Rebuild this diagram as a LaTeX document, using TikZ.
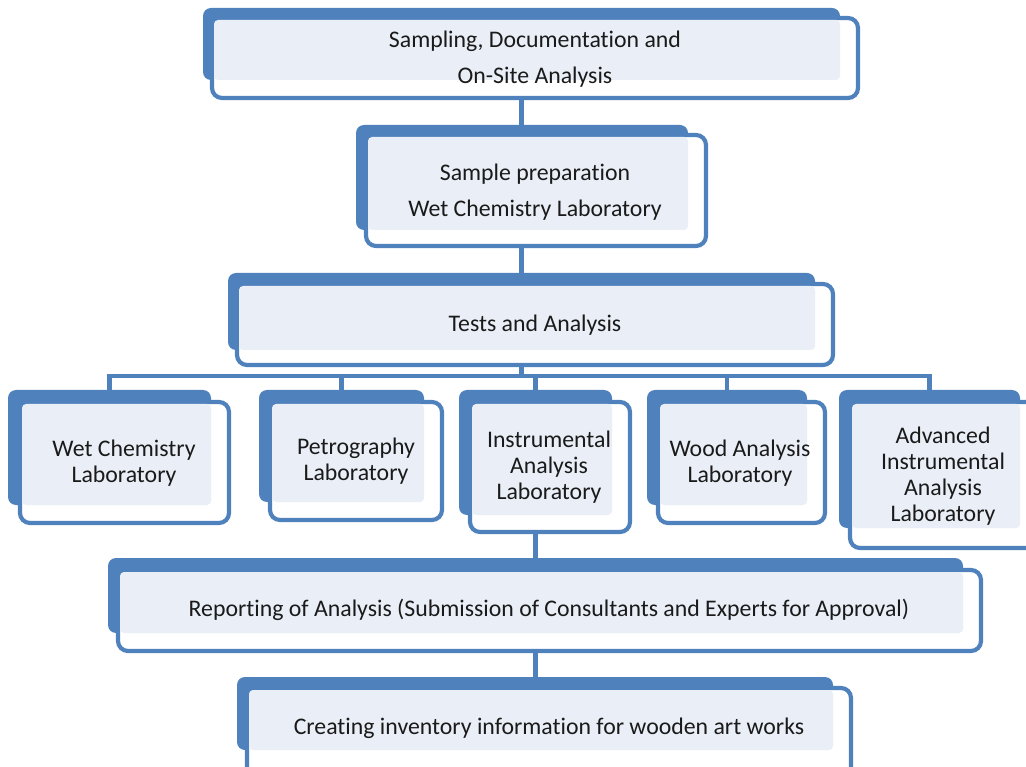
\documentclass[tikz,border=0pt]{standalone}
\usepackage{fontspec}
\setmainfont{Carlito}[RawFeature={-liga;-clig}]
\definecolor{bblue}{HTML}{4F81BD}
\definecolor{lfill}{HTML}{EAEFF7}
\definecolor{ctext}{HTML}{1A1A1A}
\tikzset{
  backbox/.style={fill=bblue, draw=none, rounded corners=8pt, inner sep=0pt, outer sep=0pt},
  outbox/.style={fill=white, draw=bblue, line width=4.2pt, rounded corners=10pt, inner sep=0pt, outer sep=0pt},
  lightfill/.style={fill=lfill},
  conn/.style={draw=bblue, line width=4.5pt},
  txt/.style={align=center, text=ctext, inner sep=0pt, font=\fontsize{23.8}{26}\selectfont},
  txtw/.style={txt, font=\fontsize{23.8}{36}\selectfont}
}
\newcommand\obox[9]{%
  \pgfmathsetmacro\bw{#4-#2}\pgfmathsetmacro\bh{#5-#3}%
  \node[backbox, minimum width=\bw pt, minimum height=\bh pt] (k#1) at ({(#2+#4)/2},{(#3+#5)/2}) {};
  \pgfmathsetmacro\ow{#8-#6}\pgfmathsetmacro\oh{#9-#7}%
  \node[outbox, minimum width=\ow pt, minimum height=\oh pt] (o#1) at ({(#6+#8)/2},{(#7+#9)/2}) {};
  \fill[lightfill, rounded corners=4pt] ({#6+2},{#7+2}) rectangle (#4,#5);
}
\begin{document}
\begin{tikzpicture}[x=1pt,y=-1pt]
\useasboundingbox (0,0) rectangle (1026,767);
% connector anchor points (centres of the back boxes)
\coordinate (bus) at (521.5,376);
\coordinate (p1) at (521.5,90);  \coordinate (p2t) at (521.5,130);
\coordinate (p2) at (521.5,240); \coordinate (p3t) at (521.5,280);
\coordinate (p3) at (521.5,355);
\coordinate (pA) at (109.5,392); \coordinate (pB) at (341.5,392);
\coordinate (pC) at (535.5,392); \coordinate (pD) at (727,392);
\coordinate (pE) at (929.5,392);
\coordinate (pCb) at (535.5,520); \coordinate (pRt) at (535.5,562);
\coordinate (pR) at (535.5,640); \coordinate (pFt) at (535.5,680);
% connectors (behind boxes)
\draw[conn] (p1) -- (p2t);
\draw[conn] (p2) -- (p3t);
\draw[conn] (p3) -- (bus);
\draw[conn] (pA) -- (pA |- bus) -- (pE |- bus) -- (pE);
\foreach \p in {pB,pC,pD}{\draw[conn] (\p |- bus) -- (\p);}
\draw[conn] (pCb) -- (pRt);
\draw[conn] (pR) -- (pFt);
% boxes
\obox{1}{203}{8}{840}{80}{212}{18}{858}{98}
\obox{2}{356}{125}{688}{230}{366}{135}{706}{246}
\obox{3}{228}{273}{815}{350}{237}{284}{833}{365}
\obox{A}{8}{390}{211}{505}{20}{402}{229}{523}
\obox{B}{259}{390}{424}{502}{270}{402}{442}{520}
\obox{C}{459}{390}{612}{515}{470}{402}{630}{532}
\obox{D}{647}{390}{807}{505}{658}{402}{825}{523}
\obox{E}{839}{390}{1020}{528}{850}{402}{1040}{548}
\obox{R}{108}{558}{963}{633}{118}{570}{981}{651}
\obox{F}{237}{677}{833}{750}{247}{688}{851}{780}
% texts
\node[txtw] (t1) at (535,59) {Sampling, Documentation and\\On-Site Analysis};
\node[txtw] (t2) at (535,192) {Sample preparation\\Wet Chemistry Laboratory};
\node[txt] (t3) at (535,325) {Tests and Analysis};
\node[txt] (tA) at (124,463.5) {Wet Chemistry\\Laboratory};
\node[txt] (tB) at (356,461.5) {Petrography\\Laboratory};
\node[txt] (tC) at (549,467.5) {Instrumental\\Analysis\\Laboratory};
\node[txt] (tD) at (740,463.5) {Wood Analysis\\Laboratory};
\node[txt] (tE) at (943,476) {Advanced\\Instrumental\\Analysis\\Laboratory};
\node[txt] (tR) at (549,610) {Reporting of Analysis (Submission of Consultants and Experts for Approval)};
\node[txt] (tF) at (549,728) {Creating inventory information for wooden art works};
\end{tikzpicture}
\end{document}
